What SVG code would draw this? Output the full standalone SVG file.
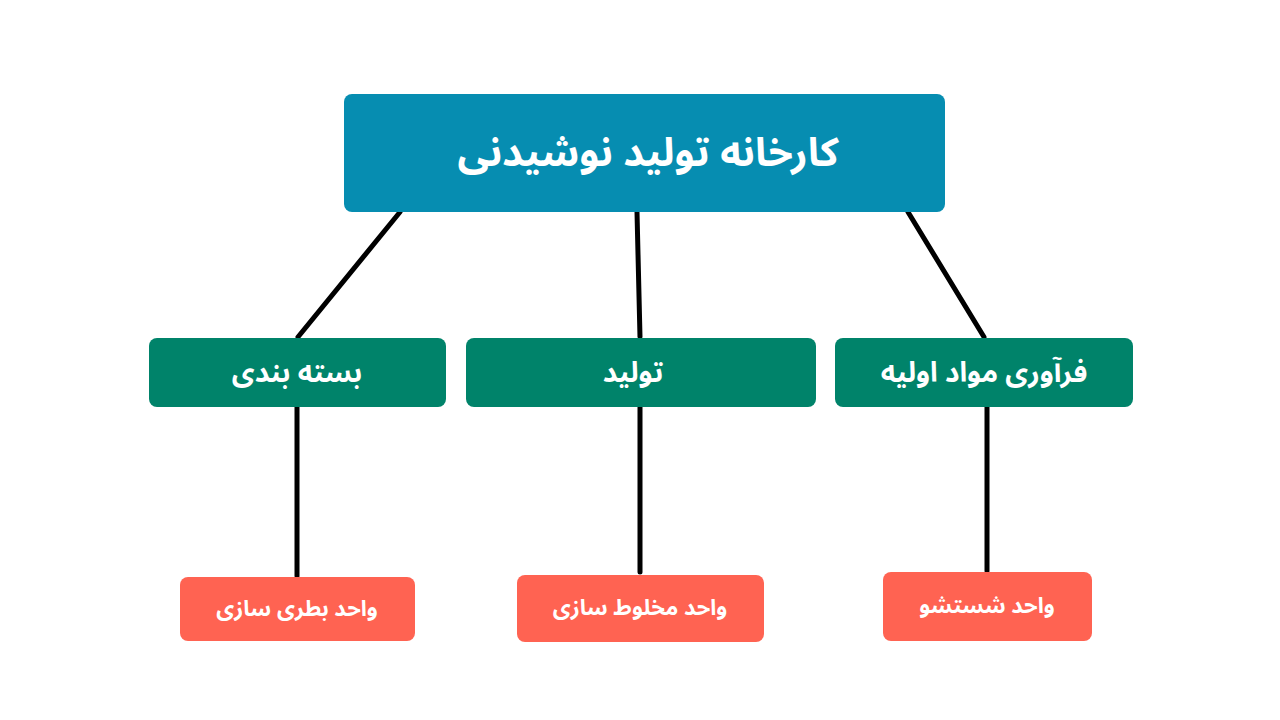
<svg xmlns="http://www.w3.org/2000/svg" width="1280" height="720" viewBox="0 0 1280 720">
<style>
text{font-family:"Noto Sans Arabic","DejaVu Sans",sans-serif;font-weight:bold;fill:#fff;text-anchor:middle;dominant-baseline:central}
.c line{stroke:#000;stroke-width:5;stroke-linecap:round}
</style>
<rect width="1280" height="720" fill="#fff"/>
<g class="c" id="connectors">
<line x1="400" y1="212" x2="298" y2="337"/>
<line x1="637" y1="212" x2="640" y2="337"/>
<line x1="908" y1="212" x2="984" y2="337"/>
<line x1="297" y1="407" x2="297" y2="576"/>
<line x1="640" y1="407" x2="640" y2="572"/>
<line x1="987" y1="407" x2="987" y2="571"/>
</g>
<g id="root"><rect x="344" y="94" width="601" height="118" rx="8" fill="#068DB1"/><text x="648" y="153" font-size="40">کارخانه  تولید نوشیدنی</text></g>
<g id="n1"><rect x="149" y="338" width="297" height="69" rx="8" fill="#00836A"/><text x="297" y="373" font-size="28">بسته بندی</text></g>
<g id="n2"><rect x="466" y="338" width="350" height="69" rx="8" fill="#00836A"/><text x="633" y="373" font-size="28">تولید</text></g>
<g id="n3"><rect x="835" y="338" width="298" height="69" rx="8" fill="#00836A"/><text x="984" y="373" font-size="28">فرآوری مواد اولیه</text></g>
<g id="b1"><rect x="180" y="577" width="235" height="64" rx="8" fill="#FF6352"/><text x="297" y="609" font-size="22">واحد بطری سازی</text></g>
<g id="b2"><rect x="517" y="575" width="247" height="67" rx="8" fill="#FF6352"/><text x="640" y="608" font-size="22">واحد مخلوط سازی</text></g>
<g id="b3"><rect x="883" y="572" width="209" height="69" rx="8" fill="#FF6352"/><text x="987" y="606" font-size="22">واحد شستشو</text></g>
</svg>
